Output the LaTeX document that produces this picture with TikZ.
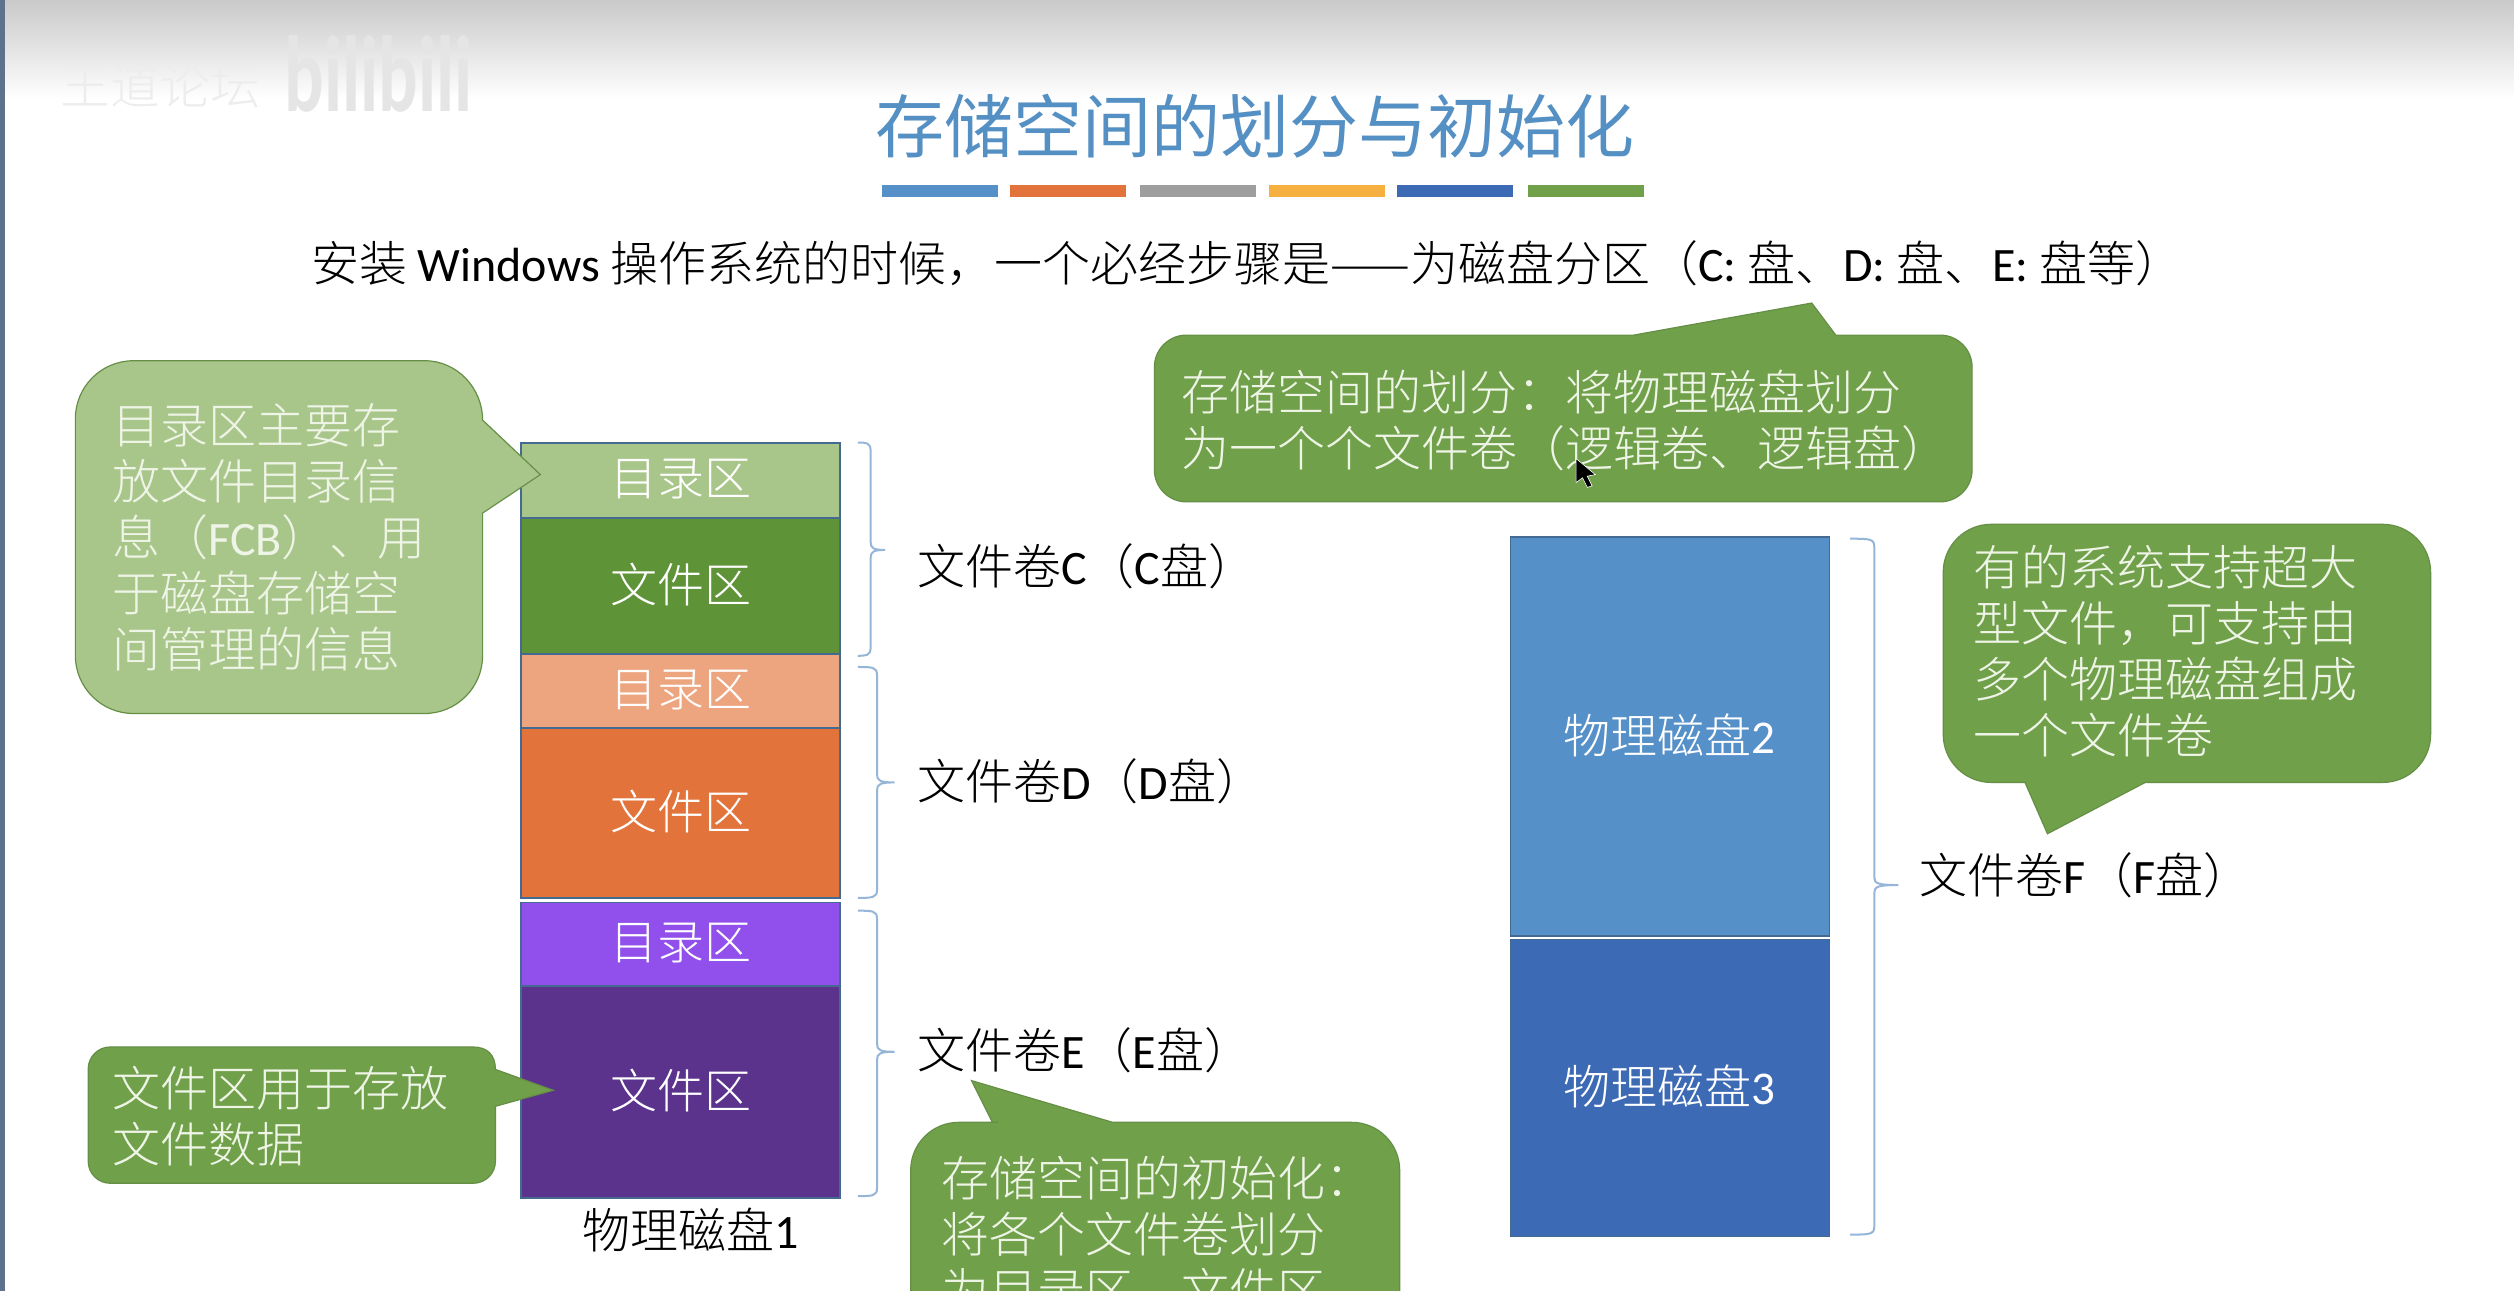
\documentclass[tikz,border=0pt]{standalone}
\usepackage{fontspec}
\setmainfont{Noto Sans CJK SC Light}
\newfontfamily\titlef{Noto Sans CJK SC}
\newfontfamily\latf{Carlito}
\newcommand{\lat}[1]{{\latf #1}}
\newcommand{\up}[1]{\raisebox{6pt}{#1}}
\definecolor{cgreen}{HTML}{70A04A}
\definecolor{lgreen}{HTML}{A9C68A}
\definecolor{dgreen}{HTML}{5F9338}
\definecolor{edgeg}{HTML}{668F46}
\definecolor{lorange}{HTML}{EDA580}
\definecolor{dorange}{HTML}{E2733B}
\definecolor{lpurple}{HTML}{9150EC}
\definecolor{dpurple}{HTML}{5B338C}
\definecolor{bdisk}{HTML}{5590C8}
\definecolor{ddisk}{HTML}{3D6AB4}
\definecolor{boxedge}{HTML}{456A92}
\definecolor{brace}{HTML}{96B6D8}
\definecolor{soft}{HTML}{EEF4E6}
\definecolor{titleblue}{HTML}{5590C4}
\definecolor{cyel}{HTML}{F5B040}
\definecolor{strip}{HTML}{5F728C}
\tikzset{
  x=1.6033pt,y=-1.6033pt,
  diskbox/.style={draw=boxedge,line width=1.6pt,minimum width=319pt,inner sep=0pt,text=white,font=\fontsize{47}{50}\selectfont},
  bubble/.style={fill=#1,draw=edgeg,line width=1.2pt},
  bubbletext/.style={anchor=west,align=left,inner sep=0pt,text=soft,font=\fontsize{48}{56}\selectfont},
  labeltext/.style={anchor=west,inner sep=0pt,text=black,font=\fontsize{48}{56}\selectfont},
  bracket/.style={draw=brace,line width=2pt},
  titlebar/.style={inner sep=0pt,minimum width=116pt,minimum height=12pt},
}
\newcommand{\brk}[6]{% xleft xvert tiplen ytop ybot ymid
  \draw[bracket] (#1,#4) .. controls (#2-3,#4) and (#2,#4) .. (#2,#4+5) -- (#2,#6-5) .. controls (#2,#6-1) and (#2+2,#6) .. (#2+#3,#6)
    (#2+#3,#6) .. controls (#2+2,#6) and (#2,#6+1) .. (#2,#6+5) -- (#2,#5-5) .. controls (#2,#5) and (#2-3,#5) .. (#1,#5);}
\begin{document}
\begin{tikzpicture}
\useasboundingbox (0,0) rectangle (1568,805);
\clip (0,0) rectangle (1568,805);
\fill[white] (0,0) rectangle (1568,805);
\shade[top color=black!21,bottom color=white] (0,0) rectangle (1568,62);
\fill[strip] (0,0) rectangle (3.2,805);
% watermark
\node[inner sep=0pt,text=black!7,font=\fontsize{50}{50}\selectfont] (wm1) at (100,53) {王道论坛};
\node[inner sep=0pt,text=black!10,font=\latf\bfseries\fontsize{90}{90}\selectfont,xscale=0.82,yscale=1.2] (wm2) at (236,46) {bilibili};
% title
\node[inner sep=0pt,text=titleblue,font=\titlef\fontsize{69}{72}\selectfont] (title) at (783,79) {存储空间的划分与初始化};
\node[titlebar,fill=bdisk] (b1) at (586.5,119) {};
\node[titlebar,fill=dorange] (b2) at (666,119) {};
\node[titlebar,fill=black!38] (b3) at (747,119) {};
\node[titlebar,fill=cyel] (b4) at (827.5,119) {};
\node[titlebar,fill=ddisk] (b5) at (907.5,119) {};
\node[titlebar,fill=cgreen] (b6) at (989,119) {};
% subtitle
\node[labeltext] (sub) at (194,164) {安装 \lat{Windows} 操作系统的时候，一个必经步骤是——为磁盘分区（\lat{C:} 盘、\lat{D:} 盘、\lat{E:} 盘等）};
% disk 1 stack
\node[diskbox,fill=lgreen,minimum height=75pt] (c1) at (424.5,299.5) {\up{目录区}};
\node[diskbox,fill=dgreen,minimum height=136pt] (c2) at (424.5,365.5) {\up{文件区}};
\node[diskbox,fill=lorange,minimum height=74pt] (d1) at (424.5,431) {\up{目录区}};
\node[diskbox,fill=dorange,minimum height=170pt] (d2) at (424.5,507) {\up{文件区}};
\node[diskbox,fill=lpurple,minimum height=84pt] (e1) at (424.5,589) {\up{目录区}};
\node[diskbox,fill=dpurple,minimum height=212pt] (e2) at (424.5,681) {\up{文件区}};
\node[labeltext,anchor=center] (d1name) at (431,767) {物理磁盘\lat{1}};
% disks 2/3
\node[diskbox,fill=bdisk,minimum height=399pt] (disk2) at (1041.5,459.5) {\up{物理磁盘\lat{2}}};
\node[diskbox,fill=ddisk,minimum height=297pt] (disk3) at (1041.5,678.5) {\up{物理磁盘\lat{3}}};
% braces
\brk{535}{543}{9}{276}{409}{343}
\brk{535}{547}{11}{416}{560}{488}
\brk{535}{547}{11}{568}{746}{656}
\brk{1154}{1169}{15}{336}{770}{552}
% labels
\node[labeltext] (lc) at (572,353) {文件卷\lat{C}（\lat{C}盘）};
\node[labeltext] (ld) at (572,487) {文件卷\lat{D}（\lat{D}盘）};
\node[labeltext] (le) at (572,655) {文件卷\lat{E}（\lat{E}盘）};
\node[labeltext] (lf) at (1197,546) {文件卷\lat{F}（\lat{F}盘）};
% bubbles
\path[bubble=lgreen] (174,225) [sharp corners] -- (265,225) .. controls (285,225) and (301,242) .. (301,262) -- (337,296) -- (301,320) [rounded corners=58pt] -- (301,445) -- (47,445) -- (47,225) -- cycle;
\node[bubbletext] (t1) at (70,335) {目录区主要存\\放文件目录信\\息（\lat{FCB}）、用\\于磁盘存储空\\间管理的信息};
\path[bubble=cgreen] (180,653) [sharp corners] -- (295,653) .. controls (304,653) and (309,658) .. (309,667) -- (345,680) -- (309,690) [rounded corners=22pt] -- (309,738) -- (55,738) -- (55,653) -- cycle;
\node[bubbletext] (t2) at (70,696) {文件区用于存放\\文件数据};
\path[bubble=cgreen] (900,209) [sharp corners] -- (1019,209) -- (1130,189) -- (1145,209) [rounded corners=32pt] -- (1230,209) -- (1230,313) -- (720,313) -- (720,209) -- cycle;
\node[bubbletext] (t3) at (737,262) {存储空间的划分：将物理磁盘划分\\为一个个文件卷（逻辑卷、逻辑盘）};
\path[bubble=cgreen] (1420,488) [sharp corners] -- (1338,488) -- (1277,520) -- (1263,488) [rounded corners=48pt] -- (1212,488) -- (1212,327) -- (1516,327) -- (1516,488) -- cycle;
\node[bubbletext] (t4) at (1231,406) {有的系统支持超大\\型文件，可支持由\\多个物理磁盘组成\\一个文件卷};
\path[bubble=cgreen] (640,700) [sharp corners] -- (619,700) -- (606,674) -- (694,700) [rounded corners=48pt] -- (873,700) -- (873,860) -- (568,860) -- (568,700) -- cycle;
\node[bubbletext] (t5) at (587,770) {存储空间的初始化：\\将各个文件卷划分\\为目录区、文件区};
% cursor
\fill[black,draw=white,line width=.6pt] (983,286) -- (983,301) -- (987,298) -- (990,304) -- (993,303) -- (990,297) -- (995,296) -- cycle;
\end{tikzpicture}
\end{document}
